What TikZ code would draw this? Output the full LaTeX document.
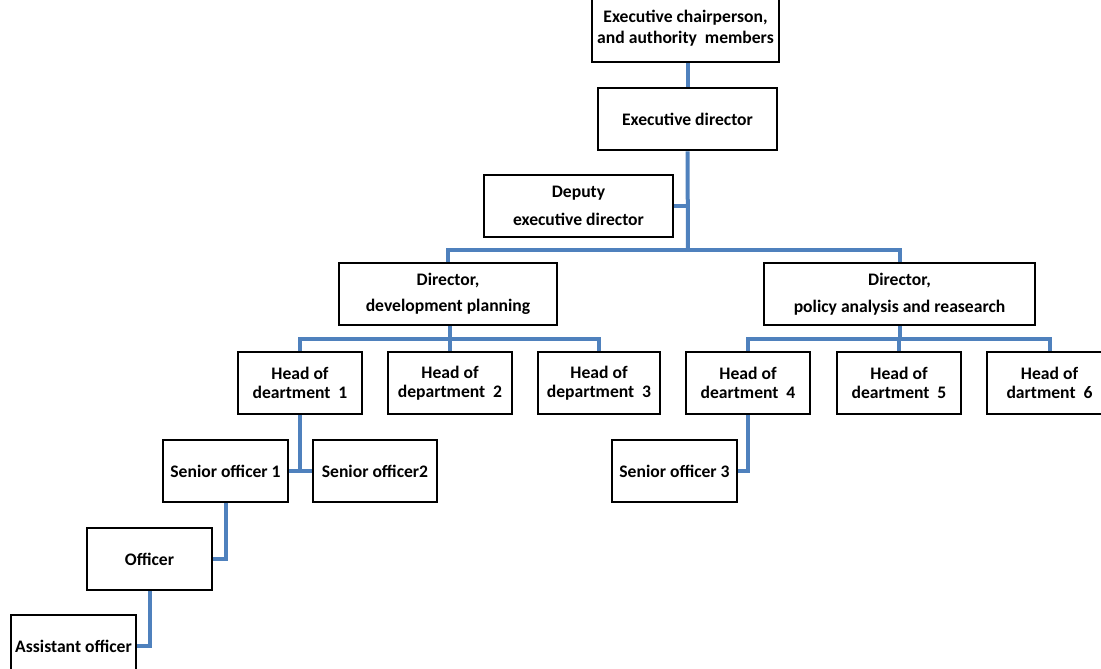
\documentclass[tikz,border=0pt]{standalone}
\usepackage{fontspec}
\setmainfont{Carlito}
\definecolor{connblue}{RGB}{79,129,189}
\begin{document}
\begin{tikzpicture}[x=1pt,y=-1pt,
  box/.style={draw=black,line width=2.7pt,fill=white,rectangle,align=center,
    inner sep=0pt,minimum height=62pt,font=\fontsize{17.6}{19.5}\selectfont\bfseries},
  conn/.style={draw=connblue,line width=4pt}]
\useasboundingbox (0,0) rectangle (1101,669);
\clip (0,0) rectangle (1101,669);
\coordinate (b1) at (688,250);
\coordinate (b2) at (450,339);
\coordinate (b3) at (900,339);
% nodes
\node[box,minimum width=187pt,minimum height=68pt] (chair) at (685.5,28) {Executive chairperson,\\[2pt]and authority\ \ members};
\node[box,minimum width=179pt] (execdir) at (687.5,119) {Executive director};
\node[box,minimum width=189pt] (deputy) at (578.5,206) {Deputy\\[8pt]executive director};
\node[box,minimum width=218pt] (dirdev) at (448,294) {Director,\\[7pt]development planning};
\node[box,minimum width=271pt] (dirpol) at (899.5,294) {Director,\\[7pt]policy analysis and reasearch};
\node[box,minimum width=124pt] (h1) at (300,383) {Head of\\deartment\ \ 1};
\node[box,minimum width=124pt] (h2) at (450,383) {Head of\\department\ \ 2};
\node[box,minimum width=122pt] (h3) at (599,383) {Head of\\department\ \ 3};
\node[box,minimum width=124pt] (h4) at (748,383) {Head of\\deartment\ \ 4};
\node[box,minimum width=124pt] (h5) at (899,383) {Head of\\deartment\ \ 5};
\node[box,minimum width=125pt] (h6) at (1049.5,383) {Head of\\dartment\ \ 6};
\node[box,minimum width=125pt] (s1) at (225.5,471) {Senior officer 1};
\node[box,minimum width=124pt] (s2) at (375,471) {Senior officer2};
\node[box,minimum width=125pt] (s3) at (674.5,471) {Senior officer 3};
\node[box,minimum width=125pt] (off) at (149.5,559) {Officer};
\node[box,minimum width=125pt] (asst) at (73.5,646) {Assistant officer};
% connectors
\draw[conn] (chair.south -| execdir.north) -- (execdir.north);
\draw[conn] (execdir.south) -- (b1);
\draw[conn] (deputy.east) -- (deputy.east -| b1);
\draw[conn] (dirdev.north) |- (b1) -| (dirpol.north);
\draw[conn] (dirdev.south -| b2) -- (b2);
\draw[conn] (h1.north) |- (b2) -| (h3.north);
\draw[conn] (h2.north) -- (h2.north |- b2);
\draw[conn] (dirpol.south -| b3) -- (b3);
\draw[conn] (h4.north) |- (b3) -| (h6.north);
\draw[conn] (h5.north) -- (h5.north |- b3);
\draw[conn] (h1.south) |- (s1.east);
\draw[conn] (h1.south) |- (s2.west);
\draw[conn] (h4.south) |- (s3.east);
\draw[conn] (s1.south) |- (off.east);
\draw[conn] (off.south) |- (asst.east);
\end{tikzpicture}
\end{document}
